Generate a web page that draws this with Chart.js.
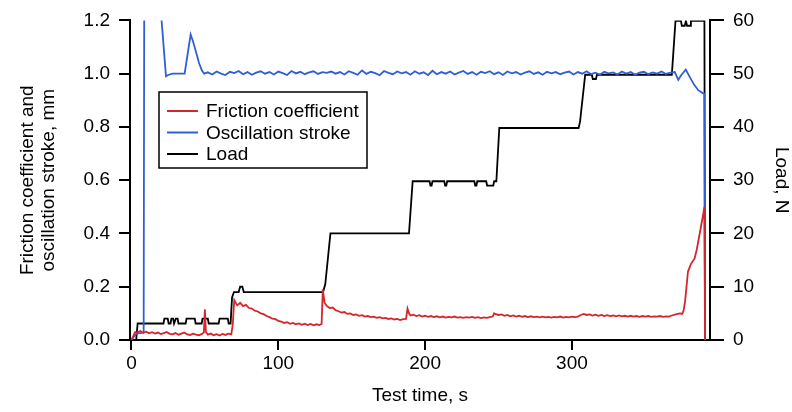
<!DOCTYPE html>
<html>
<head>
<meta charset="utf-8">
<script src="https://cdn.jsdelivr.net/npm/chart.js@4/dist/chart.umd.min.js"></script>
<style>
  body { margin: 0; background: #fff; }
  #wrap { width: 792px; height: 412px; }
</style>
</head>
<body>
<div id="wrap"><canvas id="frictionChart" width="792" height="412"></canvas></div>
<script>
// friction coefficient (left axis)
const frictionT = [0, 1, 2.5, 4, 6, 8, 10, 12, 14, 16, 18, 20, 22, 24, 26, 28, 30, 32, 34, 36, 38, 40, 42, 44, 46, 48, 49.3, 50, 50.7, 52, 54, 56, 58, 60, 62, 64, 66, 68, 69, 70, 72, 74, 76, 78, 80, 82, 84, 86, 88, 90, 92, 94, 96, 98, 100, 102, 104, 106, 108, 110, 112, 114, 116, 118, 120, 122, 124, 126, 128, 129.5, 130.3, 131.5, 133, 135, 137, 139, 141, 143, 145, 147, 149, 151, 153, 155, 157, 159, 161, 163, 165, 167, 169, 171, 173, 175, 177, 179, 181, 183, 185, 187, 188, 189, 190, 192, 194, 196, 198, 200, 202, 204, 206, 208, 210, 212, 214, 216, 218, 220, 222, 224, 226, 228, 230, 232, 234, 236, 238, 240, 242, 244, 246, 247, 248, 250, 252, 254, 256, 258, 260, 262, 264, 266, 268, 270, 272, 274, 276, 278, 280, 282, 284, 286, 288, 290, 292, 294, 296, 298, 300, 302, 304, 306, 308, 310, 312, 314, 316, 318, 320, 322, 324, 326, 328, 330, 332, 334, 336, 338, 340, 342, 344, 346, 348, 350, 352, 354, 356, 358, 360, 362, 364, 366, 368, 370, 372, 373.5, 375, 376, 377, 378, 379, 381, 383.5, 385, 387, 389, 390.2, 390.6];
const frictionV = [0, 0.012, 0.03, 0.028, 0.034, 0.027, 0.031, 0.025, 0.029, 0.024, 0.028, 0.022, 0.026, 0.03, 0.023, 0.021, 0.026, 0.02, 0.024, 0.028, 0.021, 0.019, 0.024, 0.02, 0.018, 0.023, 0.028, 0.115, 0.03, 0.02, 0.024, 0.018, 0.022, 0.017, 0.023, 0.019, 0.024, 0.021, 0.06, 0.15, 0.13, 0.14, 0.127, 0.132, 0.12, 0.118, 0.11, 0.107, 0.1, 0.097, 0.09, 0.086, 0.08, 0.078, 0.072, 0.069, 0.064, 0.067, 0.061, 0.064, 0.059, 0.062, 0.057, 0.061, 0.056, 0.06, 0.055, 0.059, 0.056, 0.06, 0.19, 0.14, 0.128, 0.12, 0.122, 0.112, 0.108, 0.103, 0.105, 0.098, 0.1, 0.094, 0.096, 0.091, 0.093, 0.088, 0.09, 0.086, 0.088, 0.083, 0.086, 0.081, 0.083, 0.079, 0.081, 0.077, 0.079, 0.075, 0.078, 0.079, 0.118, 0.1, 0.092, 0.095, 0.09, 0.093, 0.088, 0.091, 0.087, 0.09, 0.086, 0.089, 0.085, 0.088, 0.084, 0.087, 0.085, 0.088, 0.084, 0.086, 0.083, 0.086, 0.084, 0.087, 0.083, 0.086, 0.082, 0.085, 0.083, 0.086, 0.088, 0.1, 0.097, 0.094, 0.096, 0.091, 0.094, 0.089, 0.092, 0.088, 0.091, 0.087, 0.09, 0.086, 0.089, 0.086, 0.088, 0.085, 0.088, 0.085, 0.087, 0.084, 0.087, 0.085, 0.088, 0.084, 0.087, 0.085, 0.088, 0.086, 0.088, 0.094, 0.098, 0.094, 0.096, 0.092, 0.095, 0.091, 0.094, 0.09, 0.093, 0.09, 0.092, 0.089, 0.092, 0.089, 0.091, 0.088, 0.091, 0.088, 0.09, 0.087, 0.09, 0.088, 0.09, 0.087, 0.089, 0.088, 0.09, 0.087, 0.089, 0.088, 0.092, 0.095, 0.098, 0.1, 0.098, 0.11, 0.143, 0.2, 0.257, 0.285, 0.306, 0.34, 0.4, 0.46, 0.5, 0];

// oscillation stroke (left axis)
const strokeT = [0, 2, 3.5, 6, 8.3, 8.8, 19.4, 20.5, 23.5, 25, 28, 32, 36.2, 40.3, 42, 44, 46, 48, 49.5, 52, 55, 58, 61, 64, 67, 70, 73, 76, 79, 82, 85, 88, 91, 94, 97, 100, 103, 106, 109, 112, 115, 118, 121, 124, 127, 130, 133, 136, 139, 142, 145, 148, 151, 154, 157, 160, 163, 166, 169, 172, 175, 178, 181, 184, 187, 190, 193, 196, 199, 202, 205, 208, 211, 214, 217, 220, 223, 226, 229, 232, 235, 238, 241, 244, 247, 250, 253, 256, 259, 262, 265, 268, 271, 274, 277, 280, 283, 286, 289, 292, 295, 298, 301, 304, 307, 310, 313, 316, 319, 322, 325, 328, 331, 334, 337, 340, 343, 346, 349, 352, 355, 358, 361, 364, 367, 370, 372.4, 374.5, 377.5, 380, 383, 386, 389, 390.2, 390.6];
const strokeV = [0, 0.015, 0.024, 0.026, 0.028, 1.6, 1.6, 1.2, 0.99, 0.995, 1.0, 1.0, 1.0, 1.147, 1.12, 1.08, 1.04, 1.012, 1.0, 1.005, 0.997, 1.008, 1.0, 0.995, 1.007, 1.002, 1.01, 0.998, 1.006, 0.996, 1.004, 1.009, 1.0, 1.006, 0.997, 1.008, 1.002, 0.995, 1.01, 1.001, 1.007, 0.998, 1.005, 1.009, 0.999, 1.006, 1.003, 1.008, 1.0, 1.006, 0.997, 1.009, 1.003, 0.996, 1.012, 0.999, 1.007, 1.002, 0.994, 1.01, 1.003, 0.998, 1.008, 1.001, 1.006, 0.996, 1.009, 1.0, 1.005, 0.995, 1.011, 0.998, 1.006, 1.0, 1.008, 0.997, 1.004, 1.01, 0.999, 1.006, 0.996, 1.007, 1.002, 1.009, 0.998, 1.005, 0.995, 1.008, 1.001, 1.006, 0.997, 1.004, 1.009, 0.999, 1.005, 0.996, 1.007, 1.001, 1.006, 0.998, 1.004, 1.008, 0.997, 1.006, 1.0, 1.009, 0.998, 1.004, 0.996, 1.007, 1.001, 1.005, 0.997, 1.008, 1.0, 1.006, 0.996, 1.004, 1.007, 0.998, 1.005, 1.0, 1.008, 0.999, 1.004, 1.006, 0.977, 0.995, 1.015, 0.99, 0.96, 0.938, 0.927, 0.925, 0];

// load (right axis)
const loadT = [0, 3.2, 4.2, 21.8, 22.4, 24.7, 25.3, 26.6, 27.2, 28.4, 29, 29.6, 30.2, 31.4, 32, 36.9, 37.5, 43.1, 43.7, 47.8, 48.4, 52, 52.6, 59.4, 60, 65.6, 66.2, 67.5, 68.5, 69.8, 73, 74, 75.5, 76.5, 130.5, 132, 135.5, 189, 191.5, 203, 203.6, 204.4, 205, 213, 213.6, 214.4, 215, 233.5, 234.1, 234.9, 235.5, 241.6, 242.2, 246.4, 247, 248.5, 250.5, 304.5, 305.5, 309, 313.5, 314.2, 316.3, 317, 368, 370.5, 374.2, 374.8, 376.8, 377.6, 378.4, 379, 380.4, 381, 390.2, 390.6];
const loadV = [0, 0, 3.1, 3.1, 4, 4, 3.1, 3.1, 4, 4, 3.1, 3.1, 4, 4, 3.1, 3.1, 4, 4, 3.1, 3.1, 4, 4, 3.1, 3.1, 4, 4, 3.1, 3.1, 8, 9, 9, 10, 10, 9, 9, 10.5, 20, 20, 29.8, 29.8, 29, 29, 29.8, 29.8, 29, 29, 29.8, 29.8, 29, 29, 29.8, 29.8, 29, 29, 29.8, 29.8, 39.8, 39.8, 41, 49.8, 49.8, 49, 49, 49.8, 49.8, 59.9, 59.9, 59, 59, 59.9, 59, 59, 59, 59.9, 59.9, 0];

const xTicks = [0, 100, 200, 300];
const yTicks = [0, 0.2, 0.4, 0.6, 0.8, 1.0, 1.2];
const y1Ticks = [0, 10, 20, 30, 40, 50, 60];

const seriesNames = ['Friction coefficient', 'Oscillation stroke', 'Load'];
const seriesColors = ['#d4262c', '#2f5fd3', '#000000'];

const toPoints = (ts, vs) => ts.map((t, i) => ({ x: t, y: vs[i] }));

Chart.defaults.font.family = "'Liberation Sans', Arial, sans-serif";
Chart.defaults.font.size = 19;
Chart.defaults.color = '#000';

const axisFont = { size: 19 };

// legend box drawn inside the plot, as in the original figure
const boxLegend = {
  id: 'boxLegend',
  afterDraw(chart) {
    const ctx = chart.ctx;
    const x0 = 159, y0 = 92, w = 208, h = 76;
    ctx.save();
    ctx.fillStyle = '#fff';
    ctx.fillRect(x0, y0, w, h);
    ctx.strokeStyle = '#000';
    ctx.lineWidth = 1.5;
    ctx.strokeRect(x0, y0, w, h);
    ctx.font = "19px 'Liberation Sans', Arial, sans-serif";
    ctx.textBaseline = 'alphabetic';
    ctx.fillStyle = '#000';
    seriesNames.forEach((name, i) => {
      const ly = y0 + 19 + i * 21.5;
      ctx.strokeStyle = seriesColors[i];
      ctx.lineWidth = 2;
      ctx.beginPath();
      ctx.moveTo(x0 + 8, ly);
      ctx.lineTo(x0 + 39, ly);
      ctx.stroke();
      ctx.fillText(name, x0 + 47, ly + 6);
    });
    ctx.restore();
  }
};

const axisGrid = {
  display: true,
  drawOnChartArea: false,
  drawTicks: true,
  color: '#000',
  lineWidth: 2
};

new Chart(document.getElementById('frictionChart').getContext('2d'), {
  type: 'line',
  data: {
    datasets: [
      {
        label: seriesNames[0],
        data: toPoints(frictionT, frictionV),
        borderColor: seriesColors[0],
        borderWidth: 1.8,
        yAxisID: 'y'
      },
      {
        label: seriesNames[1],
        data: toPoints(strokeT, strokeV),
        borderColor: seriesColors[1],
        borderWidth: 1.8,
        yAxisID: 'y'
      },
      {
        label: seriesNames[2],
        data: toPoints(loadT, loadV),
        borderColor: seriesColors[2],
        borderWidth: 1.8,
        yAxisID: 'y1'
      }
    ]
  },
  options: {
    responsive: false,
    animation: false,
    devicePixelRatio: 1,
    layout: { padding: { top: 20, left: 0, right: 0, bottom: 0 } },
    elements: { point: { radius: 0 }, line: { tension: 0 } },
    scales: {
      x: {
        type: 'linear',
        min: -1,
        max: 394,
        afterBuildTicks: scale => { scale.ticks = xTicks.map(v => ({ value: v })); },
        afterFit: scale => { scale.height = 72; },
        grid: { ...axisGrid, tickLength: 10 },
        border: { display: true, color: '#000', width: 2 },
        ticks: { font: axisFont, padding: 2, maxRotation: 0 },
        title: { display: true, text: 'Test time, s', font: axisFont, padding: { top: 0, bottom: 5 } }
      },
      y: {
        position: 'left',
        min: 0,
        max: 1.2,
        afterBuildTicks: scale => { scale.ticks = yTicks.map(v => ({ value: v })); },
        afterFit: scale => { scale.width = 130; },
        grid: { ...axisGrid, tickLength: 11 },
        border: { display: true, color: '#000', width: 2 },
        ticks: { font: axisFont, padding: 9, callback: v => v.toFixed(1) },
        title: {
          display: true,
          text: ['Friction coefficient and', 'oscillation stroke, mm'],
          font: { size: 19, lineHeight: 1.1 },
          padding: { top: 17, bottom: 0 }
        }
      },
      y1: {
        position: 'right',
        min: 0,
        max: 60,
        afterBuildTicks: scale => { scale.ticks = y1Ticks.map(v => ({ value: v })); },
        afterFit: scale => { scale.width = 82; },
        grid: { ...axisGrid, tickLength: 14 },
        border: { display: true, color: '#000', width: 2 },
        ticks: { font: axisFont, padding: 9 },
        title: { display: true, text: 'Load, N', font: { size: 19, lineHeight: 1.1 }, padding: { top: 0, bottom: 0 } }
      }
    },
    plugins: {
      legend: { display: false },
      tooltip: { enabled: false }
    }
  },
  plugins: [boxLegend]
});
</script>
</body>
</html>
